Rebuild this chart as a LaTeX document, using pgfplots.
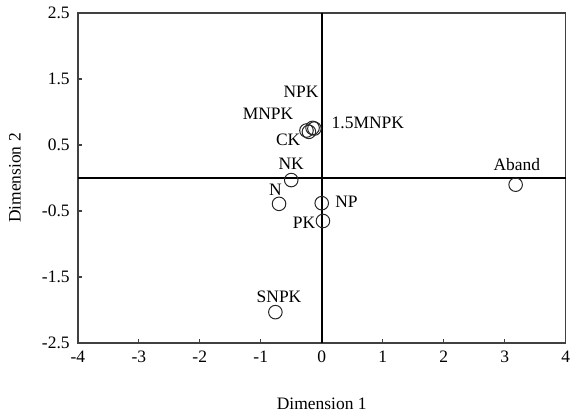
\documentclass[border=0pt]{standalone}
\usepackage{fontspec}
\setmainfont{Liberation Serif}
\usepackage{pgfplots}
\pgfplotsset{compat=1.18}

\begin{document}
\fontsize{17.5bp}{20bp}\selectfont
\begin{tikzpicture}
\begin{axis}[
    scale only axis,
    width=489bp, height=331bp,
    xmin=-4, xmax=4,
    ymin=-2.5, ymax=2.5,
    xtick={-4,-3,-2,-1,0,1,2,3,4},
    ytick={-2.5,-1.5,-0.5,0.5,1.5,2.5},
    yticklabels={-2.5,-1.5,-0.5,0.5,1.5,2.5},
    xticklabels={-4,-3,-2,-1,0,1,2,3,4},
    tick align=inside,
    xtick pos=bottom, ytick pos=left,
    major tick length=4bp,
    axis line style={line width=1.4bp, black!75},
    tick style={line width=1.4bp, black!75},
    ticklabel style={font=\fontsize{17.5bp}{20bp}\selectfont, inner sep=1bp},
    xticklabel style={yshift=-7bp},
    yticklabel style={xshift=-7bp},
    xlabel={Dimension 1},
    ylabel={Dimension 2},
    xlabel style={at={(axis description cs:0.5,-0.184)}, anchor=center, inner sep=0pt},
    ylabel style={at={(axis description cs:-0.129,0.5)}, anchor=center, inner sep=0pt},
    label style={font=\fontsize{17.5bp}{20bp}\selectfont},
    clip=false,
]
% bounding box to keep the reference's proportions
\path (rel axis cs:-0.1595,1.0393) rectangle (rel axis cs:1.0082,-0.2326);

% centre lines
\draw[line width=1.6bp, black] (axis cs:0,-2.5) -- (axis cs:0,2.5);
\draw[line width=1.6bp, black] (axis cs:-4,0) -- (axis cs:4,0);

\addplot[only marks, mark=o, mark size=6.8bp, mark options={line width=1bp, black!85}] coordinates {
    (3.18,-0.10)  % Aband
    (-0.76,-2.03) % SNPK
    (0.00,-0.38)  % NP
    (0.02,-0.65)  % PK
    (-0.70,-0.39) % N
    (-0.50,-0.03) % NK
    (-0.21,0.70)  % CK
    (-0.25,0.72)  % MNPK
    (-0.12,0.75)  % 1.5MNPK
    (-0.15,0.76)  % NPK
};

\node at (axis cs:-0.34,1.30) {NPK};
\node at (axis cs:-0.88,0.97) {MNPK};
\node at (axis cs:-0.55,0.58) {CK};
\node[anchor=west, inner sep=0pt] at (axis cs:0.16,0.83) {1.5MNPK};
\node at (axis cs:-0.50,0.21) {NK};
\node at (axis cs:-0.76,-0.18) {N};
\node[anchor=west, inner sep=0pt] at (axis cs:0.22,-0.36) {NP};
\node at (axis cs:-0.29,-0.68) {PK};
\node at (axis cs:-0.70,-1.80) {SNPK};
\node at (axis cs:3.20,0.21) {Aband};
\end{axis}
\end{tikzpicture}
\end{document}
